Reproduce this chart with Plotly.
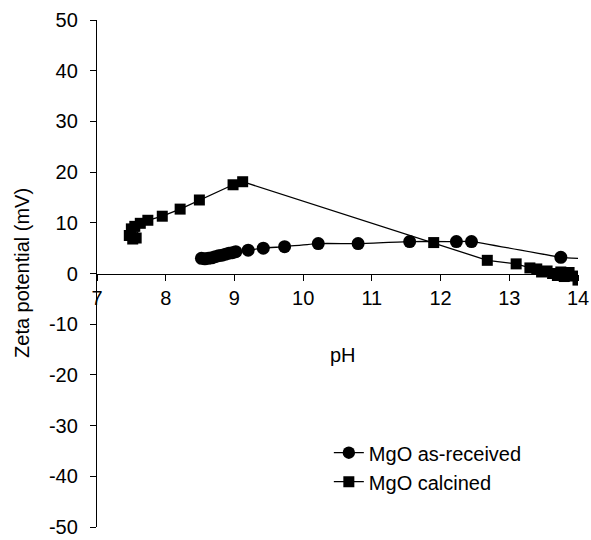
import plotly.graph_objects as go

# MgO as-received (circles)
ph_received = [8.52, 8.57, 8.62, 8.67, 8.72, 8.77, 8.82, 8.87, 8.92, 8.97, 9.02, 9.2,
               9.42, 9.73, 10.22, 10.8, 11.55, 12.23, 12.45, 13.75, 14.0]
zeta_received = [3.0, 2.9, 3.0, 3.1, 3.3, 3.5, 3.6, 3.8, 4.0, 4.1, 4.3, 4.6,
                 5.0, 5.3, 5.9, 5.9, 6.3, 6.3, 6.3, 3.2, 3.0]

# MgO calcined (squares)
ph_calcined = [7.47, 7.5, 7.52, 7.55, 7.57, 7.63, 7.74, 7.95, 8.21, 8.49, 8.98, 9.12,
               11.9, 12.68, 13.1, 13.3, 13.4, 13.47, 13.55, 13.63, 13.7, 13.75, 13.8,
               13.87, 13.93, 14.0]
zeta_calcined = [7.5, 8.8, 6.8, 9.3, 7.0, 9.9, 10.5, 11.3, 12.7, 14.5, 17.5, 18.1,
                 6.1, 2.6, 1.9, 1.1, 0.9, 0.3, 0.5, 0.0, -0.4, 0.3, -0.6,
                 0.2, -0.5, -1.3]

x_ticks = [7, 8, 9, 10, 11, 12, 13, 14]
y_ticks = [-50, -40, -30, -20, -10, 0, 10, 20, 30, 40, 50]
y_ticklabels = [str(v) for v in y_ticks]

FONT = "Liberation Sans, Arial, sans-serif"

recv_sizes = [13] * (len(ph_received) - 1) + [0]

fig = go.Figure()
fig.add_trace(go.Scatter(
    x=ph_received, y=zeta_received, mode="lines+markers", name="MgO as-received",
    line=dict(color="black", width=1.3, shape="spline", smoothing=0.5),
    marker=dict(symbol="circle", size=recv_sizes, color="black", opacity=1,
                line=dict(width=0), sizemode="diameter"),
))
fig.add_trace(go.Scatter(
    x=ph_calcined, y=zeta_calcined, mode="lines+markers", name="MgO calcined",
    line=dict(color="black", width=1.3),
    marker=dict(symbol="square", size=11, color="black", opacity=1, line=dict(width=0)),
))

fig.update_layout(
    width=591, height=540,
    margin=dict(l=97, r=13, t=20, b=13),
    paper_bgcolor="white", plot_bgcolor="white",
    font=dict(family=FONT, size=20, color="black"),
    showlegend=True,
    legend=dict(x=0.482, y=0.185, xanchor="left", yanchor="top",
                bgcolor="rgba(0,0,0,0)", font=dict(size=20), tracegroupgap=4),
    xaxis=dict(range=[7, 14], tickvals=x_ticks, showgrid=False, zeroline=False,
               showline=True, linecolor="black", linewidth=1.3,
               ticks="outside", ticklen=6, tickcolor="black",
               anchor="free", position=0.5, automargin=False),
    yaxis=dict(range=[-50, 50], tickvals=y_ticks, ticktext=y_ticklabels,
               showgrid=False, zeroline=False,
               showline=True, linecolor="black", linewidth=1.3,
               ticks="outside", ticklen=6, tickcolor="black",
               ticklabelstandoff=8, automargin=False),
    annotations=[
        dict(text="pH", xref="paper", yref="paper", x=0.511, y=0.339,
             xanchor="center", yanchor="middle", showarrow=False,
             font=dict(size=20)),
        dict(text="Zeta potential (mV)", xref="paper", yref="paper", x=-0.156, y=0.501,
             xanchor="center", yanchor="middle", showarrow=False, textangle=-90,
             font=dict(size=20)),
    ],
)

fig.write_html(
    "out.html",
    config={"displayModeBar": False},
    post_script="document.body.style.margin='0';document.body.style.overflow='hidden';",
)
